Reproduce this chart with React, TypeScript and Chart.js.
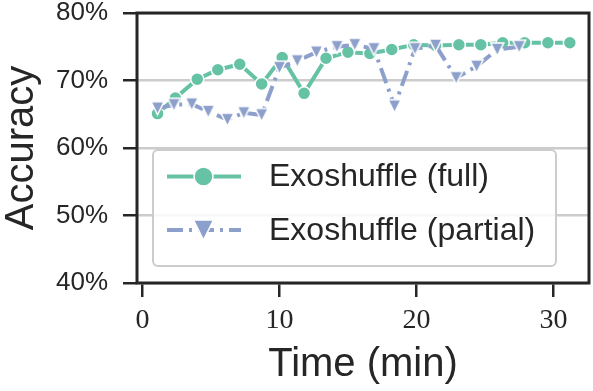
import React, { useEffect, useRef } from 'react';
import { Chart, registerables } from 'chart.js';

Chart.register(...registerables);

// ---- data ----
const seriesLabels = ['Exoshuffle (full)', 'Exoshuffle (partial)'];
const fullTime = [1.1, 2.4, 4.0, 5.5, 7.1, 8.7, 10.2, 11.8, 13.4, 15.0, 16.6, 18.2, 19.8, 21.4, 23.1, 24.7, 26.3, 27.9, 29.6, 31.2];
const fullAcc = [65.1, 67.4, 70.2, 71.6, 72.4, 69.5, 73.4, 68.1, 73.3, 74.2, 74.0, 74.6, 75.3, 75.2, 75.3, 75.3, 75.6, 75.6, 75.6, 75.6];
const partialTime = [1.1, 2.3, 3.6, 4.8, 6.2, 7.4, 8.7, 10.0, 11.3, 12.7, 14.2, 15.5, 16.9, 18.4, 19.9, 21.4, 22.9, 24.4, 25.9, 27.5];
const partialAcc = [65.9, 66.4, 66.5, 65.4, 64.2, 65.2, 64.9, 71.9, 72.9, 74.2, 75.0, 75.3, 74.7, 66.2, 74.7, 75.2, 70.4, 72.1, 74.6, 75.0];
const xTicks = [0, 10, 20, 30];
const yTicks = [40, 50, 60, 70, 80];

const GREEN = '#66c2a5';
const BLUE = '#8da0cb';
const INK = '#262626';
const GRID = '#cccccc';
const SANS = '"Liberation Sans", Arial, sans-serif';
const SERIF = '"Liberation Serif", "Times New Roman", serif';
const PARTIAL_DASH = [16, 6, 3, 6];

// isoceles down-pointing triangle (width == height), like a matplotlib 'v' marker
function traceTriangle(ctx: CanvasRenderingContext2D, cx: number, cy: number, half: number) {
  ctx.beginPath();
  ctx.moveTo(cx - half, cy - half);
  ctx.lineTo(cx + half, cy - half);
  ctx.lineTo(cx, cy + half);
  ctx.closePath();
}

function makeTriangleImage(half: number, color: string) {
  const size = Math.ceil(half * 2 + 4);
  const c = document.createElement('canvas');
  c.width = size;
  c.height = size;
  const ctx = c.getContext('2d')!;
  traceTriangle(ctx, size / 2, size / 2, half);
  ctx.fillStyle = color;
  ctx.fill();
  ctx.lineWidth = 1.5;
  ctx.strokeStyle = '#ffffff';
  ctx.lineJoin = 'miter';
  ctx.stroke();
  return c;
}

function drawMarker(ctx: CanvasRenderingContext2D, style: string, x: number, y: number, r: number, color: string) {
  ctx.save();
  if (style === 'circle') {
    ctx.beginPath();
    ctx.arc(x, y, r, 0, Math.PI * 2);
  } else {
    traceTriangle(ctx, x, y, r);
  }
  ctx.fillStyle = color;
  ctx.fill();
  ctx.lineWidth = 1.5;
  ctx.strokeStyle = '#ffffff';
  ctx.setLineDash([]);
  ctx.stroke();
  ctx.restore();
}

const legendPlugin = {
  id: 'boxLegend',
  afterDatasetsDraw(chart: any) {
    const { ctx, chartArea } = chart;
    const left = chartArea.left + 16;
    const top = chartArea.top + 137;
    const w = 403;
    const h = 116;
    ctx.save();
    ctx.beginPath();
    (ctx as any).roundRect(left, top, w, h, 5);
    ctx.fillStyle = 'rgba(255,255,255,0.85)';
    ctx.fill();
    ctx.lineWidth = 2;
    ctx.strokeStyle = GRID;
    ctx.stroke();
    const rows = [top + 26.5, top + 80];
    const styles = ['circle', 'triangle'];
    const radii = [9.5, 10];
    const dashes = [[], PARTIAL_DASH];
    const colors = [GREEN, BLUE];
    rows.forEach((ry, i) => {
      ctx.beginPath();
      ctx.setLineDash(dashes[i]);
      ctx.lineWidth = 4;
      ctx.strokeStyle = colors[i];
      ctx.moveTo(left + 14, ry);
      ctx.lineTo(left + 88, ry);
      ctx.stroke();
      ctx.setLineDash([]);
      drawMarker(ctx, styles[i], left + 50.5, ry, radii[i], colors[i]);
      ctx.fillStyle = INK;
      ctx.font = `32px ${SANS}`;
      ctx.textBaseline = 'middle';
      ctx.textAlign = 'left';
      ctx.fillText(seriesLabels[i], left + 116, ry + 1);
    });
    ctx.restore();
  },
};

const framePlugin = {
  id: 'frame',
  afterDraw(chart: any) {
    const { ctx, chartArea } = chart;
    ctx.save();
    ctx.strokeStyle = INK;
    ctx.lineWidth = 3;
    ctx.setLineDash([]);
    ctx.strokeRect(chartArea.left, chartArea.top, chartArea.right - chartArea.left, chartArea.bottom - chartArea.top);
    ctx.restore();
  },
};

export default function App() {
  const ref = useRef<HTMLCanvasElement | null>(null);
  useEffect(() => {
    if (!ref.current) return;
    const triImg = makeTriangleImage(6.5, BLUE);
    const chart = new Chart(ref.current, {
      type: 'line',
      data: {
        datasets: [
          {
            label: seriesLabels[0],
            data: fullTime.map((t, i) => ({ x: t, y: fullAcc[i] })),
            borderColor: GREEN,
            backgroundColor: GREEN,
            borderWidth: 4,
            pointRadius: 6.5,
            pointStyle: 'circle',
            pointBackgroundColor: GREEN,
            pointBorderColor: '#ffffff',
            pointBorderWidth: 1.5,
            tension: 0,
            order: 1,
          },
          {
            label: seriesLabels[1],
            data: partialTime.map((t, i) => ({ x: t, y: partialAcc[i] })),
            borderColor: BLUE,
            backgroundColor: BLUE,
            borderWidth: 4,
            borderDash: PARTIAL_DASH,
            pointRadius: 7,
            pointStyle: triImg as any,
            pointBackgroundColor: BLUE,
            pointBorderColor: '#ffffff',
            pointBorderWidth: 1.5,
            tension: 0,
            order: 0,
          },
        ],
      },
      options: {
        responsive: false,
        animation: false,
        devicePixelRatio: 1,
        layout: { autoPadding: false, padding: { top: 13, right: 4, left: 0, bottom: 0 } },
        plugins: { legend: { display: false }, tooltip: { enabled: false } },
        scales: {
          x: {
            type: 'linear',
            min: -0.4,
            max: 32.6,
            afterBuildTicks: (s: any) => { s.ticks = xTicks.map((v) => ({ value: v })); },
            afterFit: (s: any) => { s.height = 108; s.paddingLeft = 0; s.paddingRight = 0; s.paddingTop = 0; s.paddingBottom = 0; },
            border: { display: false },
            grid: { drawOnChartArea: false, drawTicks: true, tickLength: 14, tickColor: INK, lineWidth: 2.5 },
            ticks: { color: INK, padding: 7, font: { family: SERIF, size: 28 }, maxRotation: 0 },
            title: { display: true, text: 'Time (min)', color: INK, font: { family: SANS, size: 40, lineHeight: 1 }, padding: { top: 0, bottom: 6 } },
          },
          y: {
            type: 'linear',
            min: 40,
            max: 80,
            afterBuildTicks: (s: any) => { s.ticks = yTicks.map((v) => ({ value: v })); },
            afterFit: (s: any) => { s.width = 137; s.paddingLeft = 0; s.paddingRight = 0; s.paddingTop = 0; s.paddingBottom = 0; },
            border: { display: false },
            grid: { color: GRID, lineWidth: 2.5, drawTicks: true, tickLength: 14, tickColor: INK },
            ticks: { color: INK, padding: 15, font: { family: SANS, size: 26 }, callback: (v: any) => `${v}%` },
            title: { display: true, text: 'Accuracy', color: INK, font: { family: SANS, size: 40, lineHeight: 1 }, padding: { top: 2, bottom: 0 } },
          },
        },
      },
      plugins: [legendPlugin, framePlugin],
    });
    return () => chart.destroy();
  }, []);
  return (
    <div style={{ position: 'fixed', left: 0, top: 0, width: 593, height: 391, background: '#fff' }}>
      <canvas ref={ref} width={593} height={391} style={{ display: 'block' }} />
    </div>
  );
}
